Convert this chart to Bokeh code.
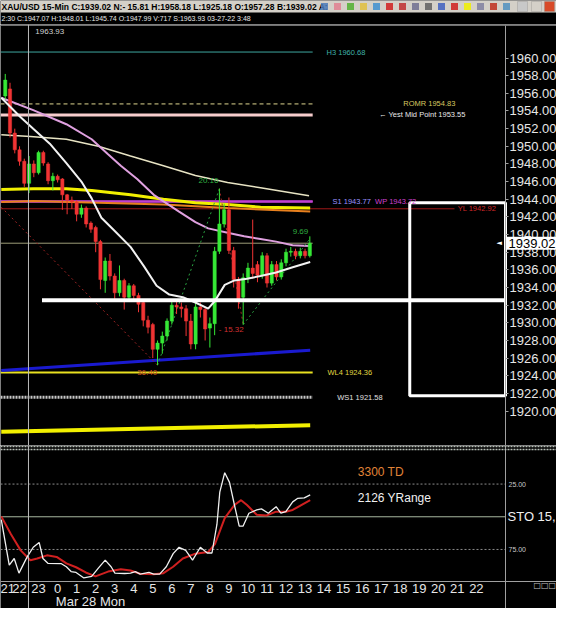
import numpy as np
from bokeh.plotting import figure
from bokeh.models import (Range1d, FixedTicker, NumeralTickFormatter, Span, Label,
                          BoxAnnotation, LinearAxis, ColumnDataSource)
from bokeh.layouts import column
from bokeh.embed import file_html
from bokeh.resources import INLINE
from bokeh.core.properties import value

FONT = "Liberation Sans"

# ---------------- header texts ----------------
title_text = "XAU/USD  15-Min  C:1939.02  N:- 15.81  H:1958.18  L:1925.18  O:1957.28  B:1939.02  A:"
info_text = "2:30  C:1947.07  H:1948.01  L:1945.74  O:1947.99  V:717  S:1963.93  03-27-22  3:48"

# ---------------- 15-min candles (hours relative to Mar 28 00:00) ----------------
opens = [1955.7, 1956.5, 1951.5, 1949.6, 1948.3, 1945.8, 1948.0, 1947.0, 1949.3, 1948.0,
         1946.1, 1946.6, 1946.3, 1944.5, 1943.9, 1943.7, 1942.3, 1943.0, 1941.3, 1940.8,
         1939.2, 1934.8, 1937.0, 1935.3, 1933.4, 1934.8, 1932.9, 1934.2, 1933.1, 1932.3,
         1930.3, 1929.8, 1927.0, 1927.7, 1928.5, 1930.2, 1932.0, 1931.8, 1931.6, 1930.2,
         1927.6, 1931.8, 1931.5, 1929.4, 1929.9, 1938.1, 1941.2, 1942.8, 1938.2, 1934.9,
         1932.9, 1935.1, 1936.2, 1936.6, 1935.4, 1937.6, 1934.5, 1936.6, 1935.2, 1936.8,
         1938.0, 1938.1, 1937.6, 1938.1, 1937.6]
closes = [1957.5, 1951.5, 1949.6, 1948.3, 1945.8, 1948.0, 1947.0, 1949.3, 1948.1, 1946.1,
          1946.6, 1946.2, 1944.5, 1943.9, 1943.7, 1942.3, 1943.0, 1941.2, 1940.6, 1939.2,
          1934.9, 1937.0, 1935.3, 1933.4, 1934.8, 1932.9, 1934.2, 1933.1, 1932.1, 1930.3,
          1929.5, 1927.0, 1927.7, 1928.5, 1930.2, 1932.0, 1931.8, 1931.6, 1930.2, 1927.6,
          1931.8, 1931.5, 1929.3, 1929.9, 1938.1, 1941.2, 1942.8, 1938.2, 1934.9, 1932.7,
          1935.1, 1936.2, 1935.6, 1935.4, 1937.6, 1934.5, 1936.6, 1935.2, 1936.8, 1938.0,
          1938.1, 1937.6, 1938.1, 1937.6, 1939.02]
highs = [1958.2, 1957.2, 1952.0, 1950.0, 1948.6, 1948.9, 1948.4, 1949.5, 1949.5, 1948.2,
         1947.0, 1946.8, 1946.4, 1944.6, 1944.3, 1943.9, 1943.4, 1943.2, 1941.5, 1941.0,
         1939.4, 1937.4, 1937.8, 1935.6, 1936.5, 1935.0, 1934.5, 1934.4, 1933.4, 1932.5,
         1930.8, 1930.0, 1928.0, 1929.0, 1930.5, 1932.5, 1932.6, 1932.3, 1932.0, 1931.0,
         1932.4, 1932.3, 1931.8, 1930.6, 1938.6, 1945.2, 1943.5, 1944.2, 1938.6, 1935.2,
         1935.6, 1936.8, 1941.7, 1937.0, 1938.0, 1937.9, 1937.0, 1937.0, 1937.2, 1938.4,
         1938.6, 1938.4, 1938.5, 1938.4, 1939.8]
lows = [1955.3, 1951.0, 1949.2, 1947.8, 1945.4, 1944.7, 1946.5, 1946.8, 1947.8, 1945.7,
        1945.0, 1945.9, 1942.8, 1942.3, 1942.9, 1941.5, 1941.9, 1940.8, 1940.2, 1938.0,
        1933.8, 1933.4, 1934.8, 1932.6, 1933.0, 1931.5, 1932.5, 1932.5, 1931.2, 1929.6,
        1928.8, 1926.0, 1925.2, 1926.5, 1928.0, 1929.8, 1931.0, 1930.6, 1928.5, 1927.0,
        1927.0, 1930.6, 1928.0, 1927.2, 1928.6, 1937.8, 1940.8, 1937.8, 1934.0, 1931.6,
        1929.8, 1934.5, 1935.0, 1934.6, 1935.0, 1934.0, 1934.2, 1934.8, 1934.9, 1936.4,
        1937.5, 1937.2, 1937.3, 1937.3, 1937.4]
bar_time = [-2.75 + 0.25 * k for k in range(len(opens))]

# ---------------- moving averages ----------------
ma_fast_t = [-2.96, -1.94, -1.28, -0.41, 0.46, 1.28, 1.79, 2.30, 2.91, 3.83, 4.54, 5.20,
             5.87, 6.58, 7.24, 7.91, 8.27, 8.78, 9.29, 9.95, 10.66, 11.48, 12.35, 13.27]
ma_fast = [1955.5, 1953.3, 1952.0, 1950.3, 1948.1, 1945.9, 1944.1, 1941.9, 1940.6, 1938.6,
           1936.4, 1934.2, 1933.2, 1932.9, 1932.3, 1931.6, 1932.5, 1934.3, 1934.8, 1935.0,
           1935.3, 1935.7, 1936.3, 1936.9]
ma_mid_t = [-2.96, -1.28, 0.46, 1.79, 2.65, 3.32, 4.18, 5.05, 6.38, 7.24, 7.91, 8.93,
            9.80, 10.66, 11.48, 12.35, 13.27]
ma_mid = [1955.5, 1954.1, 1952.5, 1950.8, 1949.1, 1947.8, 1946.3, 1944.5, 1942.6, 1941.4,
          1940.7, 1940.2, 1939.8, 1939.5, 1939.2, 1938.8, 1938.7]
ma_slow_t = [-2.96, -1.43, 0.46, 2.14, 3.83, 5.56, 7.24, 8.93, 10.66, 13.21]
ma_slow = [1951.3, 1951.1, 1950.8, 1950.0, 1948.9, 1947.8, 1946.7, 1945.9, 1945.3, 1944.4]
ma_yellow_t = [-2.96, -1.28, 0.46, 1.79, 3.83, 5.56, 7.24, 8.93, 10.66, 13.27]
ma_yellow = [1945.1, 1945.2, 1945.2, 1945.0, 1944.5, 1944.0, 1943.6, 1943.4, 1943.1, 1943.0]
ma_orange_t = [-2.96, -1.28, 2.14, 5.56, 8.93, 13.27]
ma_orange = [1943.7, 1943.8, 1943.6, 1943.4, 1943.0, 1942.6]

# ---------------- pivot levels ----------------
level_names = ["H3 1960.68", "ROMR 1954.83", "\u2190 Yest Mid Point 1953.55", "S1 1943.77",
               "WP 1943.72", "YL 1942.92", "WL4 1924.36", "WS1 1921.58"]
level_values = [1960.68, 1954.80, 1953.55, 1943.77, 1943.72, 1942.92, 1924.36, 1921.58]
level_end_t = [13.4, 13.4, 13.4, 13.4, 13.4, 20.85, 13.4, 13.4]
level_label_t = [14.13, 18.16, 16.89, 14.44, 16.68, 21.02, 14.18, 14.69]
level_colors = ["#3fa8a0", "#e0d890", "#f6cccc", "#c040d0", "#c040d0", "#a01818", "#e8e020", "#c8c8c8"]
level_text_colors = ["#3fb0a8", "#d8c860", "#e8e8e8", "#9a90ff", "#d040d0", "#d02828", "#e0d840", "#e0e0e0"]
level_widths = [1, 1, 3, 2, 2, 1, 2, 3]
level_dashes = ["solid", "4 3", "solid", "solid", "solid", "solid", "solid", "2 1"]
last_price = 1939.02

# trend lines
blue_t = [-2.96, 13.27]
blue_v = [1924.6, 1926.9]
low_yellow_t = [-2.96, 13.27]
low_yellow_v = [1917.65, 1918.4]
white_level_t = [-0.82, 23.53]
white_level = 1932.55
box_t = [18.5, 23.53]
box_v = [1921.75, 1943.6]

# zigzag swings
zz_t = [-2.96, 5.25, 8.5, 9.75, 13.25]
zz_v = [1943.1, 1925.2, 1945.2, 1929.8, 1939.5]
swing_texts = ["36.40", "20.16", "- 15.32", "9.69"]
swing_t = [4.18, 7.40, 8.47, 12.35]
swing_v = [1924.4, 1946.1, 1929.2, 1940.4]
swing_colors = ["#d05020", "#30b040", "#d03030", "#30b040"]

# ---------------- stochastic ----------------
sto_k_t = [-2.96, -2.54, -2.28, -2.03, -1.60, -1.28, -0.97, -0.77, -0.51, 0.20, 0.46, 0.71,
           0.97, 1.38, 1.79, 2.14, 2.50, 2.81, 3.01, 3.52, 3.83, 4.08, 4.34, 4.80, 5.05,
           5.36, 5.71, 6.07, 6.38, 6.73, 7.09, 7.50, 7.86, 8.11, 8.37, 8.52, 8.78, 9.03,
           9.29, 9.54, 9.74, 10.05, 10.46, 10.71, 11.07, 11.48, 11.73, 11.99, 12.35, 12.60,
           12.96, 13.27]
sto_k = [52.2, 86.9, 81.9, 93.1, 80.7, 73.3, 69.6, 81.9, 85.6, 85.9, 88.2, 91.9, 92.6,
         96.8, 95.6, 89.3, 83.2, 88.2, 93.1, 93.4, 93.1, 91.9, 93.9, 92.6, 93.9, 93.9,
         88.2, 78.2, 73.3, 75.7, 83.2, 73.3, 77.7, 77.7, 55.9, 31.2, 16.3, 23.7, 41.0,
         57.2, 57.2, 47.3, 44.8, 44.0, 47.3, 42.3, 47.3, 46.1, 38.6, 36.0, 35.5, 33.2]
sto_d_t = [-2.96, -2.45, -1.94, -1.43, -1.07, -0.56, -0.05, 0.46, 0.97, 1.48, 1.99, 2.65,
           3.32, 3.83, 4.34, 5.05, 5.56, 6.07, 6.58, 7.24, 7.91, 8.27, 8.78, 9.29, 9.64,
           9.95, 10.46, 10.97, 11.48, 11.99, 12.35, 13.27]
sto_d = [49.7, 63.3, 75.7, 83.2, 81.9, 79.5, 80.7, 85.6, 88.6, 92.6, 95.6, 91.9, 90.1,
         91.1, 93.6, 93.9, 93.1, 88.2, 81.9, 78.2, 77.0, 70.8, 51.0, 41.0, 37.3, 41.0,
         48.5, 49.0, 46.1, 46.1, 44.8, 37.3]
sto_levels = [25, 50, 75]

hour_ticks = list(range(-3, 23))
hour_labels = ["21", "22", "23"] + [str(h) for h in range(0, 23)]
date_label = "Mar 28 Mon"
date_label_t = 1.73
crosshair_t = -1.53
crosshair_price = "1963.93"

price_ticks = list(range(1920, 1962, 2))

# toolbar icon colours (header strip)
icon_colors = ["#4a7ab8", "#e08090", "#50b030", "#e0c040", "#4090d0", "#d02020", "#c03030",
               "#707090", "#606060", "#4060c0", "#d02020", "#f0f000", "#8080a0", "#c03020",
               "#5090c0"]

# ---------------- geometry ----------------
W = 556
FRAME_W = 505                      # chart area; the price scale sits to its right
X0, X1 = -3.0, 23.53               # visible hours of the chart area
XEND = X0 + (X1 - X0) * W / FRAME_W
x_rng = Range1d(X0, XEND)
STO_AXIS = 99.5                    # stochastic value at the bottom of the oscillator pane
STO_TOP = -4.5
STO_BOTTOM = STO_AXIS + (STO_AXIS - STO_TOP) * 27 / 136


def style_axis(a, size, color):
    a.major_label_text_font = FONT
    a.major_label_text_font_size = size
    a.major_label_text_color = color
    a.axis_line_color = "#a0a0a0"
    a.minor_tick_line_color = None


# ================= header =================
hdr = figure(width=W, height=24, x_range=Range1d(0, W), y_range=Range1d(0, 24),
             toolbar_location=None, output_backend="svg", x_axis_location=None,
             y_axis_location=None, background_fill_color="black", border_fill_color="black",
             outline_line_color=None, min_border=0)
hdr.grid.visible = False
hdr.add_layout(BoxAnnotation(bottom=12, fill_color="#d4d0c8", fill_alpha=1, line_color=None))
hdr.add_layout(Label(x=1, y=18, text=title_text, text_font=FONT, text_font_size="8.5px",
                     text_font_style="bold", text_color="#000000", text_baseline="middle"))
hdr.add_layout(Label(x=1, y=6, text=info_text, text_font=FONT, text_font_size="7px",
                     text_color="#e6e6e6", text_baseline="middle"))
for k, col in enumerate(icon_colors):
    cx = 324 + 13.0 * k
    hdr.add_layout(BoxAnnotation(left=cx - 3.5, right=cx + 3.5, bottom=14.5, top=21.5,
                                 fill_color=col, fill_alpha=0.85, line_color=None))
for left, col in [(517, "#c8c8c8"), (531, "#d4d0c8"), (544, "#d84a28")]:
    hdr.add_layout(BoxAnnotation(left=left, right=left + 10, bottom=13, top=23,
                                 fill_color=col, fill_alpha=1, line_color="#808080"))

# ================= price panel =================
p = figure(width=W, height=421, x_range=x_rng, y_range=Range1d(1916.1, 1963.8),
           toolbar_location=None, output_backend="svg", x_axis_location=None,
           y_axis_location=None, background_fill_color="black", border_fill_color="black",
           outline_line_color=None, min_border=0)
p.grid.visible = False
ax = LinearAxis(fixed_location=X1, ticker=FixedTicker(ticks=price_ticks),
                formatter=NumeralTickFormatter(format="0.00"))
style_axis(ax, "13px", "#e6e6e6")
ax.major_tick_line_color = "#a0a0a0"
ax.major_tick_out = 3
ax.major_tick_in = 0
ax.major_label_standoff = 1
p.add_layout(ax, "right")

p.add_layout(Span(location=1963.7, dimension="width", line_color="#808080", line_width=1))
p.add_layout(Span(location=crosshair_t, dimension="height", line_color="#bcbcbc", line_width=1))

# pivot / reference levels
for v, e, c, w, d in zip(level_values, level_end_t, level_colors, level_widths, level_dashes):
    p.line([X0, e], [v, v], line_color=c, line_width=w, line_dash=d)
p.line([X0, 13.4], [last_price, last_price], line_color="#9c9c78", line_width=1)

# lower trend lines
p.line(low_yellow_t, low_yellow_v, line_color="#f2f000", line_width=4)
p.line(blue_t, blue_v, line_color="#1a1ad0", line_width=3)

# moving averages
p.line(ma_slow_t, ma_slow, line_color="#e8e4c4", line_width=1.5)
p.line(ma_yellow_t, ma_yellow, line_color="#f2f000", line_width=3)
p.line(ma_orange_t, ma_orange, line_color="#e8801e", line_width=2)
p.line(ma_mid_t, ma_mid, line_color="#dfa0df", line_width=2)

# zigzag
for k in range(len(zz_t) - 1):
    col = "#a02424" if zz_v[k + 1] < zz_v[k] else "#28a040"
    p.line(zz_t[k:k + 2], zz_v[k:k + 2], line_color=col, line_width=1, line_dash="2 3")

# candles
up = [k for k in range(len(opens)) if closes[k] >= opens[k]]
dn = [k for k in range(len(opens)) if closes[k] < opens[k]]
for idx, col in [(up, "#36e836"), (dn, "#f03434")]:
    src = ColumnDataSource(dict(
        t=[bar_time[k] for k in idx],
        hi=[highs[k] for k in idx],
        lo=[lows[k] for k in idx],
        top=[max(opens[k], closes[k]) for k in idx],
        bot=[min(opens[k], closes[k]) for k in idx]))
    p.segment(x0="t", y0="hi", x1="t", y1="lo", source=src, line_color=col, line_width=1)
    p.vbar(x="t", width=0.17, top="top", bottom="bot", source=src,
           fill_color=col, line_color=col, line_width=0.5)

p.line(ma_fast_t, ma_fast, line_color="#f2f2f2", line_width=2)

# white level and box
p.line(white_level_t, [white_level, white_level], line_color="#ffffff", line_width=4)
p.quad(left=[box_t[0]], right=[box_t[1]], bottom=[box_v[0]], top=[box_v[1]],
       fill_color=None, line_color="#ffffff", line_width=3)

# texts
lvl_src = ColumnDataSource(dict(t=level_label_t, v=level_values, s=level_names, c=level_text_colors))
p.text(x="t", y="v", text="s", source=lvl_src, text_color="c", text_font=value(FONT),
       text_font_size="7.5px", text_baseline="middle")
sw_src = ColumnDataSource(dict(t=swing_t, v=swing_v, s=swing_texts, c=swing_colors))
p.text(x="t", y="v", text="s", source=sw_src, text_color="c", text_font=value(FONT),
       text_font_size="8px", text_baseline="middle")
p.add_layout(Label(x=-1.17, y=1963.0, text=crosshair_price, text_font=FONT,
                   text_font_size="8px", text_color="#d0d0d0", text_baseline="middle"))
p.add_layout(Label(x=X1, y=last_price, x_offset=-9, text="\u25c4", text_font="DejaVu Sans",
                   text_font_size="7px", text_color="#ffffff", text_baseline="middle"))
price_box = Label(x=X1, y=last_price, x_offset=1, text="1939.02", text_font=FONT,
                  text_font_size="13px", text_color="#000000", text_baseline="middle",
                  background_fill_color="#ffffff", background_fill_alpha=1.0)
try:
    price_box.padding = 2
except Exception:
    pass
p.add_layout(price_box)

# ================= stochastic panel =================
s = figure(width=W, height=163, x_range=x_rng, y_range=Range1d(STO_BOTTOM, STO_TOP),
           toolbar_location=None, output_backend="svg", x_axis_location=None,
           y_axis_location=None, background_fill_color="black", border_fill_color="black",
           outline_line_color=None, min_border=0)
s.grid.visible = False
xa = LinearAxis(fixed_location=STO_AXIS, ticker=FixedTicker(ticks=hour_ticks))
xa.major_label_overrides = {t: l for t, l in zip(hour_ticks, hour_labels)}
style_axis(xa, "13px", "#e6e6e6")
xa.major_tick_line_color = None
xa.major_tick_out = 0
xa.major_tick_in = 0
xa.major_label_standoff = 2
s.add_layout(xa, "below")
ya = LinearAxis(fixed_location=X1, ticker=FixedTicker(ticks=[25, 75]))
ya.major_label_overrides = {25: "25.00", 75: "75.00"}
style_axis(ya, "7px", "#c8c8c8")
ya.major_tick_line_color = None
ya.major_tick_out = 0
ya.major_tick_in = 0
ya.major_label_standoff = 3
s.add_layout(ya, "right")

for loc in (-3.75, -1.5):
    s.add_layout(Span(location=loc, dimension="width", line_color="#b8c0b8",
                      line_width=1.5, line_dash="2 1"))
for lv in sto_levels:
    if lv == 50:
        s.line([X0, X1], [lv, lv], line_color="#a8b8a0", line_width=1)
    else:
        s.line([X0, X1], [lv, lv], line_color="#8c8c8c", line_width=1, line_dash="2 2")
s.add_layout(Span(location=crosshair_t, dimension="height", line_color="#bcbcbc", line_width=1))

s.line(sto_d_t, sto_d, line_color="#d02020", line_width=2)
s.line(sto_k_t, sto_k, line_color="#f0f0f0", line_width=1.3)

s.add_layout(Label(x=15.77, y=15.6, text="3300 TD", text_font=FONT, text_font_size="12px",
                   text_color="#e08438", text_baseline="middle"))
s.add_layout(Label(x=15.77, y=35.6, text="2126 YRange", text_font=FONT, text_font_size="12px",
                   text_color="#f0f0f0", text_baseline="middle"))
s.add_layout(Label(x=X1, y=50, x_offset=2, text="STO  15,", text_font=FONT,
                   text_font_size="13px", text_color="#f0f0f0", text_baseline="middle"))
s.add_layout(Label(x=date_label_t, y=STO_AXIS, y_offset=-20, text=date_label, text_font=FONT,
                   text_font_size="13px", text_color="#e6e6e6", text_baseline="middle",
                   text_align="center"))
s.add_layout(Label(x=X1, y=STO_AXIS, x_offset=28, y_offset=-4, text="\u25a1\u25a1\u25a1",
                   text_font="DejaVu Sans", text_font_size="8px", text_color="#c0c0c0",
                   text_baseline="middle"))

layout = column(hdr, p, s, spacing=0)
html = file_html(layout, INLINE, title="XAU/USD 15-Min")
html = html.replace("<body>", '<body style="background:#000000;">', 1)
open("out.html", "w").write(html)
